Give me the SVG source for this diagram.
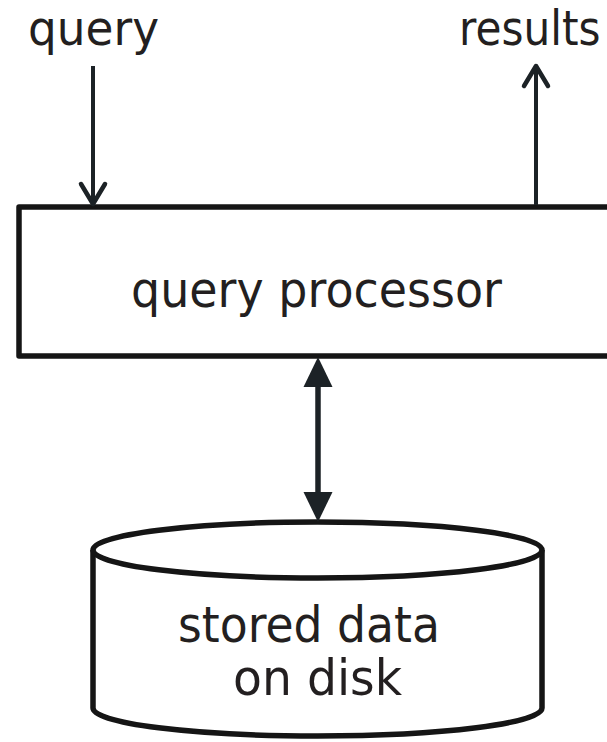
<svg xmlns="http://www.w3.org/2000/svg" width="607" height="742" viewBox="0 0 607 742">
  <style>
    .label { font-family: "DejaVu Sans", "Noto Sans", sans-serif; font-size: 50px; fill: #231f20; }
    .top { font-size: 48px; }
    .box { fill: #ffffff; stroke: #151515; stroke-width: 5.5; stroke-linejoin: round; }
    .wire { stroke: #1c2226; fill: none; }
    .thin { stroke-width: 4; }
    .thick { stroke-width: 5.5; }
  </style>
  <defs>
    <!-- open chevron head for the single arrows -->
    <marker id="chevron" markerUnits="userSpaceOnUse" orient="auto" refX="0" refY="0" markerWidth="1" markerHeight="1" overflow="visible">
      <path d="M-20,-12 L0,0 L-20,12" fill="none" stroke="#1c2226" stroke-width="4.5" stroke-linecap="round" stroke-linejoin="round"/>
    </marker>
    <!-- solid triangle head for the two-way link -->
    <marker id="solid" markerUnits="userSpaceOnUse" orient="auto-start-reverse" refX="0" refY="0" markerWidth="1" markerHeight="1" overflow="visible">
      <path d="M30,0 L0,-14.5 L0,14.5 Z" fill="#1c2226"/>
    </marker>
  </defs>

  <g id="query-label">
    <text class="label top" x="28" y="45" textLength="131" lengthAdjust="spacingAndGlyphs">query</text>
  </g>

  <g id="results-label">
    <text class="label top" transform="translate(459,45) scale(0.88,1)" x="0" y="0">results</text>
  </g>

  <g id="query-processor">
    <rect class="box" x="19" y="207" width="600" height="149"/>
    <text class="label" x="131" y="307" textLength="371" lengthAdjust="spacingAndGlyphs">query processor</text>
  </g>

  <g id="stored-data">
    <path class="box" d="M93,550 L93,708 A224.5,28 0 0 0 542,708 L542,550"/>
    <ellipse class="box" cx="317.5" cy="550" rx="224.5" ry="28"/>
    <text class="label" x="178" y="642" textLength="262" lengthAdjust="spacingAndGlyphs">stored data</text>
    <text class="label" x="233" y="695" textLength="169" lengthAdjust="spacingAndGlyphs">on disk</text>
  </g>

  <g id="connectors">
    <line class="wire thin" x1="93" y1="66" x2="93" y2="204" marker-end="url(#chevron)"/>
    <line class="wire thin" x1="536" y1="205" x2="536" y2="66" marker-end="url(#chevron)"/>
    <line class="wire thick" x1="318" y1="387" x2="318" y2="492" marker-start="url(#solid)" marker-end="url(#solid)"/>
  </g>
</svg>
